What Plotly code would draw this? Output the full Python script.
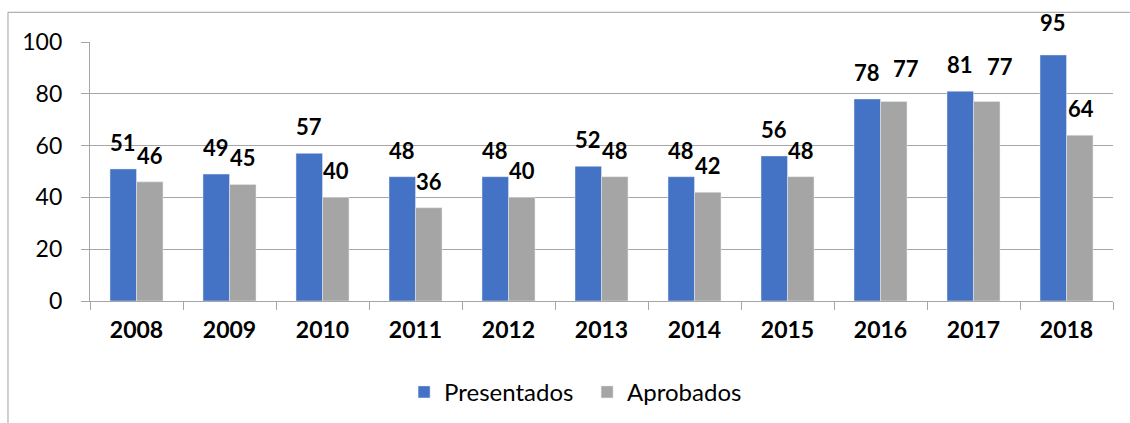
import plotly.graph_objects as go

years = ["2008", "2009", "2010", "2011", "2012", "2013", "2014", "2015", "2016", "2017", "2018"]
presentados = [51, 49, 57, 48, 48, 52, 48, 56, 78, 81, 95]
aprobados = [46, 45, 40, 36, 40, 48, 42, 48, 77, 77, 64]

# label nudges (px) as placed in the original chart
pres_dy = [0, 0, 0, 0, 0, 0, 0, 0, 0, 0, -6]
apro_dy = [0, 0, 0, 0, 0, 0, 0, 0, -7, -9, 0]
apro_dx = [0, 0, 0, 0, 0, 0, 0, 0, 12, 13, 1]

BLUE = "#4472C4"
GRAY = "#A5A5A5"
FONT = "Lato"

fig = go.Figure()
fig.add_trace(go.Bar(x=years, y=presentados, name="Presentados", marker_color=BLUE))
fig.add_trace(go.Bar(x=years, y=aprobados, name="Aprobados", marker_color=GRAY))

annotations = []
for i in range(len(years)):
    annotations.append(dict(x=i, y=presentados[i], xref="x", yref="y", text=str(presentados[i]),
                            showarrow=False, xshift=-13.3, yshift=26.5 - pres_dy[i],
                            yanchor="middle", xanchor="center",
                            font=dict(family=FONT, size=22, color="black", weight="bold")))
    annotations.append(dict(x=i, y=aprobados[i], xref="x", yref="y", text=str(aprobados[i]),
                            showarrow=False, xshift=13.3 + apro_dx[i], yshift=26.5 - apro_dy[i],
                            yanchor="middle", xanchor="center",
                            font=dict(family=FONT, size=22, color="black", weight="bold")))

W, H = 1130, 423
ml, mr, mt, mb = 90, 17.3, 41.7, 122.3
pw = W - ml - mr
ph = H - mt - mb

def px_x(x):
    return (x - ml) / pw

def px_y(y):
    return (H - mb - y) / ph

shapes = [
    dict(type="line", xref="paper", yref="paper", x0=px_x(8), x1=px_x(1135), y0=px_y(12), y1=px_y(12),
         line=dict(color="#B0B0B0", width=1.2)),
    dict(type="line", xref="paper", yref="paper", x0=px_x(8), x1=px_x(8), y0=px_y(12), y1=px_y(430),
         line=dict(color="#B0B0B0", width=1.2)),
]

fig.update_layout(
    width=W, height=H,
    margin=dict(l=ml, r=mr, t=mt, b=mb, autoexpand=False),
    paper_bgcolor="white", plot_bgcolor="white",
    barmode="group", bargap=0.43, bargroupgap=0,
    font=dict(family=FONT, size=22, color="black"),
    showlegend=True,
    legend=dict(orientation="h", x=px_x(404), y=px_y(392), xanchor="left", yanchor="middle",
                font=dict(family=FONT, size=24, color="black"), entrywidth=138, entrywidthmode="pixels",
                bgcolor="rgba(0,0,0,0)"),
    annotations=annotations,
    shapes=shapes,
)
fig.update_xaxes(
    type="category", range=[-0.5, len(years) - 0.5], autorange=False,
    showline=True, linecolor="#A6A6A6", linewidth=1.3,
    ticks="outside", ticklen=8, tickcolor="#A6A6A6", tickwidth=1.3, tickson="boundaries",
    tickfont=dict(family=FONT, size=23, color="black", weight="bold"),
    ticklabelstandoff=8, tickangle=0,
)
fig.update_yaxes(
    range=[0, 100], autorange=False, dtick=20, showgrid=True, gridcolor="#A6A6A6", gridwidth=1.3,
    showline=True, linecolor="#A6A6A6", linewidth=1.3,
    ticks="outside", ticklen=8, tickcolor="#A6A6A6", tickwidth=1.3,
    tickfont=dict(family=FONT, size=23, color="black"),
    ticklabelstandoff=14, zeroline=False,
)

fig.write_html("out.html", config={"displayModeBar": False},
               post_script="document.body.style.margin='0';document.body.style.overflow='hidden';")
